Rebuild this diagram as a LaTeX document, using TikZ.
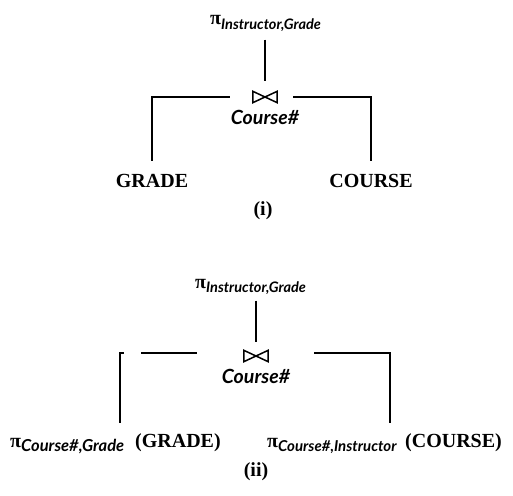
\documentclass[tikz,border=0pt]{standalone}
\usepackage{fontspec}
\setmainfont{Liberation Serif}
\newfontfamily\attrfont{Lato}
\usetikzlibrary{calc}

% projection symbol with a bold italic subscript of the given size
\newcommand{\projon}[2][14.5]{\textbf{π}\raisebox{-0.22em}{\fontsize{#1}{#1}\selectfont\attrfont\bfseries\itshape #2}}

\begin{document}
\begin{tikzpicture}[x=1pt,y=-1pt,
    lbl/.style={inner sep=0pt,font=\fontsize{20}{20}\selectfont\bfseries},
    attr/.style={inner sep=0pt,font=\fontsize{19.5}{19.5}\selectfont\attrfont\bfseries\itshape},
    joinbox/.style={inner sep=0pt,minimum width=24pt,minimum height=11pt},
    joinsym/.style={line width=1.5pt,line join=miter},
    edge/.style={line width=1.3pt}]
\useasboundingbox (0,0) rectangle (513,495);

% ---------- tree (i) ----------
\node[lbl,anchor=base west] (pA) at (210,25) {\projon{Instructor,Grade}};
\node[joinbox] (jA) at (265,97) {};
\draw[joinsym] (jA.north west) -- (jA.south west) -- (jA.north east) -- (jA.south east) -- cycle;
\node[attr,anchor=base] (kA) at (265,124) {Course\#};
\node[lbl,anchor=base] (gA) at (152,187) {GRADE};
\node[lbl,anchor=base] (cA) at (371,187) {COURSE};
\node[lbl,anchor=base] (capA) at (263,215) {(i)};

\draw[edge,shorten <=8pt,shorten >=10pt] (pA.south -| jA) -- (jA.north);
\draw[edge,shorten >=13pt] ([xshift=-23pt]jA.west) -| (gA.north);
\draw[edge,shorten >=13pt] ([xshift=16pt]jA.east) -| (cA.north);

% ---------- tree (ii) ----------
\node[lbl,anchor=base west] (pB) at (195,288) {\projon{Instructor,Grade}};
\node[joinbox] (jB) at (256,356) {};
\draw[joinsym] (jB.north west) -- (jB.south west) -- (jB.north east) -- (jB.south east) -- cycle;
\node[attr,anchor=base] (kB) at (256,383) {Course\#};

\node[lbl,anchor=base west] (gpB) at (10,447) {\projon[16.5]{Course\#,Grade}};
\node[lbl,anchor=base west] (gB) at (135,447) {(GRADE)};
\node[lbl,anchor=base west] (cpB) at (267,447) {\projon[15]{Course\#,Instructor}};
\node[lbl,anchor=base west] (cB) at (405,447) {(COURSE)};
\node[lbl,anchor=base] (capB) at (256,476) {(ii)};

\draw[edge,shorten <=6pt,shorten >=8pt] (pB.south -| jB) -- (jB.north);
\draw[edge,dash pattern=on 56pt off 17pt on 300pt,shorten >=10pt]
  ([xshift=-47pt,yshift=3pt]jB.west) -| ([xshift=-15pt]gB.north west);
\draw[edge,shorten >=10pt]
  ([xshift=46pt,yshift=3pt]jB.east) -| ([xshift=-15pt]cB.north west);
\end{tikzpicture}
\end{document}
